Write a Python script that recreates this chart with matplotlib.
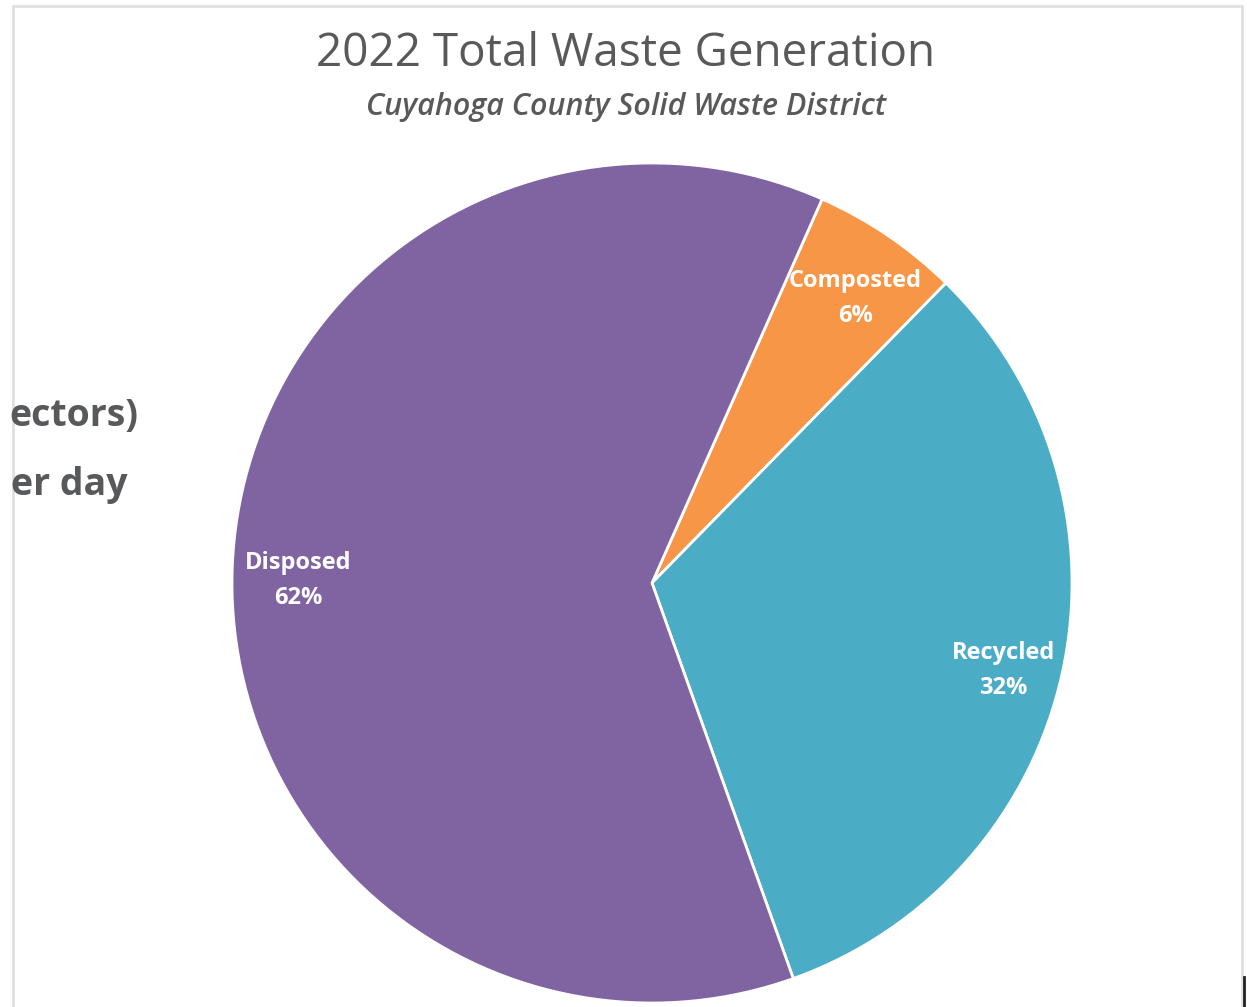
import matplotlib.pyplot as plt
import numpy as np
from matplotlib.patches import Rectangle

# values (share of total)
categories = ['Composted', 'Recycled', 'Disposed']
shares = [5.7, 32.2, 62.1]
colours = ['#F79646', '#4BACC6', '#8064A2']

W, H = 1247, 1007
fig = plt.figure(figsize=(W / 100, H / 100), dpi=100)
ax = fig.add_axes([0, 0, 1, 1])

# chart frame (light grey border, open at bottom)
ax.add_patch(Rectangle((13, -10), 1229, H - 6 + 10, fill=False,
                       edgecolor='#e0e0e0', linewidth=2))
ax.plot([1244, 1244], [0, H - 977], color='#222222', linewidth=2)

# pie
cx, cy, r = 652, H - 583, 420
wedges, _ = ax.pie(shares, colors=colours, startangle=66.1, counterclock=False,
                   center=(cx, cy), radius=r, frame=True,
                   wedgeprops=dict(edgecolor='white', linewidth=2))
ax.set_xlim(0, W)
ax.set_ylim(0, H)
ax.set_aspect('equal')
ax.axis('off')

# data labels
for w, name, val in zip(wedges, categories, shares):
    ang = np.deg2rad((w.theta1 + w.theta2) / 2)
    d = 0.85 * r
    ax.text(cx + d * np.cos(ang) + 3, cy + d * np.sin(ang) - 11,
            f"{name}\n{val:.0f}%",
            ha='center', va='center', color='white', fontsize=17,
            fontweight='bold', family='Open Sans', linespacing=1.6)

# titles
ax.text(626, H - 54, '2022 Total Waste Generation', ha='center', va='center',
        fontsize=33, color='#595959', family='Open Sans')
ax.text(626, H - 107, 'Cuyahoga County Solid Waste District', ha='center',
        va='center', fontsize=22, color='#595959', family='Open Sans',
        style='italic', fontweight='semibold')

# text showing at the left edge (from the slide behind the chart)
ax.text(138, H - 416, 'ectors)', ha='right', va='center', fontsize=27,
        fontweight='bold', color='#58595B', family='Open Sans')
ax.text(128, H - 485, 'er day', ha='right', va='center', fontsize=27,
        fontweight='bold', color='#58595B', family='Open Sans')

fig.savefig('out.png', dpi=100)
